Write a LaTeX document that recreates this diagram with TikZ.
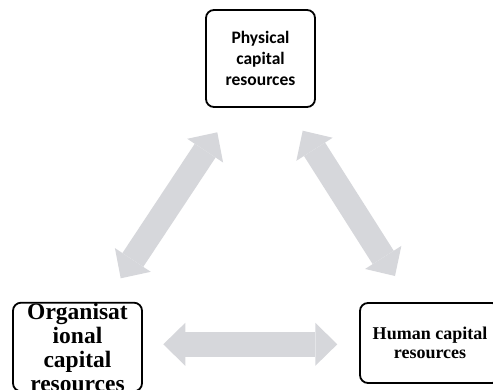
\documentclass[tikz,border=0pt]{standalone}
\usepackage{fontspec}
\usepackage{tikz}
\usetikzlibrary{arrows.meta,positioning}
\newfontfamily\calibrifont{Carlito}
\newfontfamily\timesfont{Liberation Serif}
\definecolor{arrowgray}{RGB}{214,215,219}
\tikzset{%
	resbox/.style   = {draw, rectangle, rounded corners=8pt, line width=1.8pt, align=center, inner sep=0pt},
	link/.style     = {line width=25pt, draw=arrowgray, {Triangle[width=43pt,length=22pt,line width=0pt]}-{Triangle[width=43pt,length=22pt,line width=0pt]}},
}
\begin{document}
\begin{tikzpicture}[x=1pt,y=-1pt]
	\clip (0,0) rectangle (493,389);
	
	% the three kinds of capital
	\node[resbox, minimum width=109pt, minimum height=97pt, font=\calibrifont\bfseries\fontsize{17.5}{21}\selectfont] (phys) at (260.5,58.5) {Physical\\capital\\resources};
	\node[resbox, minimum width=129pt, minimum height=88pt, font=\timesfont\bfseries\fontsize{23.5}{24}\selectfont] (org) at (77.5,347) {Organisat\\ional\\capital\\resources};
	\node[resbox, minimum width=140pt, minimum height=80pt, font=\timesfont\bfseries\fontsize{18}{19.5}\selectfont] (hum) at (430,343) {Human capital\\resources};
	
	% arrow ends
	\coordinate (po) at (217.3,132.3);
	\coordinate (op) at (120.7,278.3);
	\coordinate (ph) at (302.7,130.7);
	\coordinate (hp) at (395,276);
	\coordinate (oh) at (163.3,344.3);
	\coordinate (ho) at (337.3,344.3);
	
	\draw[link] (po) -- (op);
	\draw[link] (ph) -- (hp);
	\draw[link] (oh) -- (ho);
\end{tikzpicture}
\end{document}
